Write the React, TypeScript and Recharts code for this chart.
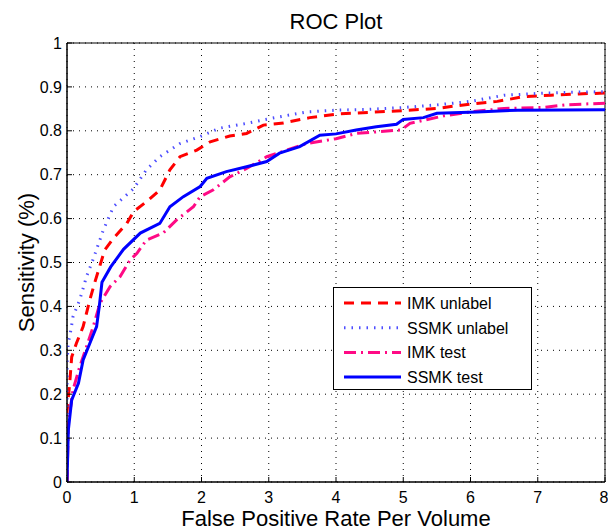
import React from "react";
import {
  LineChart,
  Line,
  XAxis,
  YAxis,
  CartesianGrid,
  Legend,
  ReferenceArea,
} from "recharts";

type Pt = { x: number; y: number };

const xTicks = [0, 1, 2, 3, 4, 5, 6, 7, 8];
const yTicks = [0, 0.1, 0.2, 0.3, 0.4, 0.5, 0.6, 0.7, 0.8, 0.9, 1];

// false positive rate per volume vs sensitivity
const imkUnlabel: Pt[] = [
  { x: 0, y: 0 }, { x: 0, y: 0.16 }, { x: 0.04, y: 0.225 }, { x: 0.07, y: 0.285 },
  { x: 0.14, y: 0.316 }, { x: 0.24, y: 0.354 }, { x: 0.34, y: 0.415 }, { x: 0.41, y: 0.453 },
  { x: 0.49, y: 0.493 }, { x: 0.56, y: 0.528 }, { x: 0.69, y: 0.555 }, { x: 0.89, y: 0.589 },
  { x: 0.99, y: 0.616 }, { x: 1.21, y: 0.642 }, { x: 1.38, y: 0.665 }, { x: 1.53, y: 0.711 },
  { x: 1.68, y: 0.741 }, { x: 1.93, y: 0.756 }, { x: 2.13, y: 0.775 }, { x: 2.42, y: 0.788 },
  { x: 2.67, y: 0.794 }, { x: 2.92, y: 0.813 }, { x: 3.22, y: 0.818 }, { x: 3.61, y: 0.83 },
  { x: 4.0, y: 0.838 }, { x: 4.5, y: 0.842 }, { x: 5.0, y: 0.846 }, { x: 5.5, y: 0.851 },
  { x: 6.0, y: 0.861 }, { x: 6.4, y: 0.867 }, { x: 6.8, y: 0.878 }, { x: 7.2, y: 0.881 },
  { x: 7.6, y: 0.884 }, { x: 8, y: 0.886 },
];

const ssmkUnlabel: Pt[] = [
  { x: 0, y: 0 }, { x: 0, y: 0.27 }, { x: 0.02, y: 0.32 }, { x: 0.04, y: 0.33 },
  { x: 0.09, y: 0.377 }, { x: 0.19, y: 0.415 }, { x: 0.29, y: 0.468 }, { x: 0.39, y: 0.508 },
  { x: 0.54, y: 0.574 }, { x: 0.69, y: 0.627 }, { x: 0.99, y: 0.668 }, { x: 1.18, y: 0.711 },
  { x: 1.38, y: 0.741 }, { x: 1.68, y: 0.771 }, { x: 1.98, y: 0.787 }, { x: 2.27, y: 0.806 },
  { x: 2.67, y: 0.817 }, { x: 3.06, y: 0.829 }, { x: 3.56, y: 0.843 }, { x: 4.0, y: 0.847 },
  { x: 4.5, y: 0.849 }, { x: 5.0, y: 0.853 }, { x: 5.5, y: 0.859 }, { x: 6.0, y: 0.867 },
  { x: 6.5, y: 0.881 }, { x: 7.0, y: 0.885 }, { x: 7.5, y: 0.888 }, { x: 8, y: 0.889 },
];

const imkTest: Pt[] = [
  { x: 0, y: 0 }, { x: 0.02, y: 0.134 }, { x: 0.09, y: 0.21 }, { x: 0.19, y: 0.263 },
  { x: 0.29, y: 0.308 }, { x: 0.39, y: 0.354 }, { x: 0.49, y: 0.407 }, { x: 0.64, y: 0.445 },
  { x: 0.79, y: 0.468 }, { x: 0.94, y: 0.506 }, { x: 1.04, y: 0.521 }, { x: 1.18, y: 0.551 },
  { x: 1.43, y: 0.567 }, { x: 1.63, y: 0.597 }, { x: 1.88, y: 0.627 }, { x: 1.98, y: 0.65 },
  { x: 2.17, y: 0.665 }, { x: 2.42, y: 0.695 }, { x: 2.67, y: 0.714 }, { x: 2.97, y: 0.741 },
  { x: 3.27, y: 0.756 }, { x: 3.56, y: 0.771 }, { x: 4.0, y: 0.782 }, { x: 4.3, y: 0.794 },
  { x: 4.97, y: 0.802 }, { x: 5.1, y: 0.817 }, { x: 5.6, y: 0.834 }, { x: 6.0, y: 0.843 },
  { x: 6.5, y: 0.851 }, { x: 7.07, y: 0.853 }, { x: 7.4, y: 0.859 }, { x: 8, y: 0.863 },
];

const ssmkTest: Pt[] = [
  { x: 0, y: 0 }, { x: 0.02, y: 0.118 }, { x: 0.07, y: 0.187 }, { x: 0.17, y: 0.225 },
  { x: 0.24, y: 0.278 }, { x: 0.34, y: 0.316 }, { x: 0.44, y: 0.354 }, { x: 0.48, y: 0.4 },
  { x: 0.52, y: 0.455 }, { x: 0.65, y: 0.49 }, { x: 0.84, y: 0.53 }, { x: 1.09, y: 0.567 },
  { x: 1.38, y: 0.589 }, { x: 1.53, y: 0.627 }, { x: 1.73, y: 0.65 }, { x: 1.98, y: 0.673 },
  { x: 2.08, y: 0.692 }, { x: 2.37, y: 0.707 }, { x: 2.67, y: 0.718 }, { x: 2.97, y: 0.73 },
  { x: 3.16, y: 0.749 }, { x: 3.46, y: 0.764 }, { x: 3.76, y: 0.79 }, { x: 4.0, y: 0.793 },
  { x: 4.3, y: 0.802 }, { x: 4.6, y: 0.809 }, { x: 4.9, y: 0.815 }, { x: 5.0, y: 0.826 },
  { x: 5.3, y: 0.83 }, { x: 5.5, y: 0.84 }, { x: 6.1, y: 0.843 }, { x: 6.7, y: 0.847 },
  { x: 8, y: 0.848 },
];

const series = [
  { name: "IMK unlabel", data: imkUnlabel, color: "#ff0000", dash: "10 7", width: 3 },
  { name: "SSMK unlabel", data: ssmkUnlabel, color: "#4d4dff", dash: "1.5 6", width: 3 },
  { name: "IMK test", data: imkTest, color: "#ff0a85", dash: "12 5 2 5", width: 3 },
  { name: "SSMK test", data: ssmkTest, color: "#0000ff", dash: undefined, width: 3 },
];

const font = "'Liberation Sans', Arial, sans-serif";

function LegendBox() {
  return (
    <div
      style={{
        width: 197,
        height: 101,
        border: "1px solid #000",
        background: "#fff",
        fontFamily: font,
        fontSize: 16,
        color: "#000",
      }}
    >
      <svg width={197} height={101}>
        {series.map((s, i) => (
          <g key={s.name}>
            <line
              x1={10}
              x2={67}
              y1={15 + i * 24.7}
              y2={15 + i * 24.7}
              stroke={s.color}
              strokeWidth={s.width}
              strokeDasharray={s.dash}
            />
            <text x={73} y={15 + i * 24.7 + 6} fontSize={16} fill="#000" fontFamily={font}>
              {s.name}
            </text>
          </g>
        ))}
      </svg>
    </div>
  );
}

export default function App() {
  return (
    <div style={{ position: "absolute", left: 0, top: 0, width: 608, height: 529, background: "#fff" }}>
      <div
        style={{
          position: "absolute",
          left: 0,
          width: 672,
          top: 10,
          textAlign: "center",
          fontFamily: font,
          fontSize: 22,
          lineHeight: "23px",
          color: "#000",
        }}
      >
        ROC Plot
      </div>
      <LineChart
        width={608}
        height={529}
        margin={{ top: 43, right: 3, bottom: 0, left: 0 }}
        style={{ fontFamily: font }}
      >
        <CartesianGrid stroke="#000" strokeDasharray="1 5" strokeWidth={1} />
        <XAxis
          dataKey="x"
          type="number"
          domain={[0, 8]}
          ticks={xTicks}
          allowDataOverflow
          height={47}
          stroke="#000"
          tickSize={-5}
          tickMargin={15}
          tick={{ fill: "#000", fontSize: 16 }}
          label={{ value: "False Positive Rate Per Volume", position: "insideBottom", offset: 3, fontSize: 22, fill: "#000" }}
        />
        <YAxis
          type="number"
          domain={[0, 1]}
          ticks={yTicks}
          allowDataOverflow
          width={67}
          stroke="#000"
          tickSize={-5}
          tickMargin={10}
          tick={{ fill: "#000", fontSize: 16 }}
          label={{
            value: "Sensitivity (%)",
            angle: -90,
            position: "insideLeft",
            offset: 26,
            fontSize: 22,
            fill: "#000",
            style: { textAnchor: "middle" },
          }}
        />
        <ReferenceArea x1={0} x2={8} y1={0} y2={1} fill="none" stroke="#000" strokeWidth={1} ifOverflow="visible" />
        {series.map((s) => (
          <Line
            key={s.name}
            name={s.name}
            data={s.data}
            dataKey="y"
            type="linear"
            stroke={s.color}
            strokeWidth={s.width}
            strokeDasharray={s.dash}
            dot={false}
            activeDot={false}
            isAnimationActive={false}
          />
        ))}
        <Legend
          layout="horizontal"
          verticalAlign="middle"
          align="center"
          content={() => <LegendBox />}
          wrapperStyle={{ position: "absolute", left: 333, top: 287, width: 199, height: 103 }}
        />
      </LineChart>
    </div>
  );
}
